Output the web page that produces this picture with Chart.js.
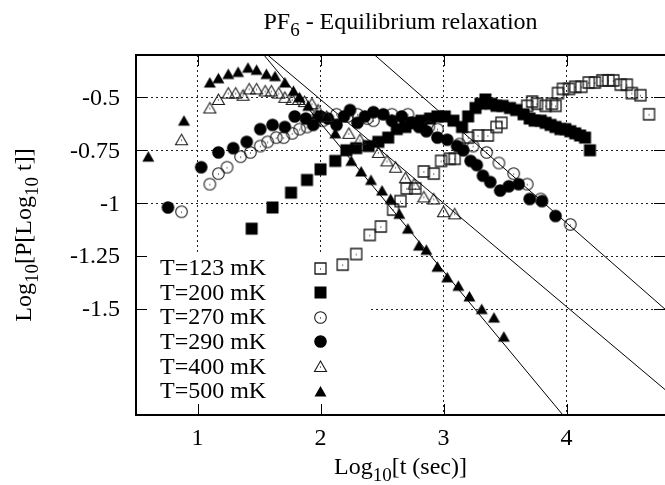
<!DOCTYPE html>
<html>
<head>
<meta charset="utf-8">
<script src="https://cdn.jsdelivr.net/npm/chart.js@4.4.1/dist/chart.umd.min.js"></script>
<style>
    html, body { margin: 0; padding: 0; background: #fff; }
    #chart { display: block; }
</style>
</head>
<body>
<canvas id="chart" width="665" height="485"></canvas>
<script>
/* ===== Data ===== */

var seriesLabels = ['T=123 mK', 'T=200 mK', 'T=270 mK', 'T=290 mK', 'T=400 mK', 'T=500 mK'];

var x123 = [2.18, 2.29, 2.40, 2.49, 2.59, 2.65, 2.70, 2.77, 2.84, 2.92, 2.98, 3.05, 3.09, 3.20, 3.28, 3.36, 3.43, 3.47,
            3.68, 3.72, 3.76, 3.83, 3.88, 3.91, 3.93, 3.97, 4.02, 4.07, 4.12, 4.18, 4.23, 4.29, 4.34, 4.38, 4.44, 4.49, 4.53, 4.60, 4.67];
var y123 = [-1.29, -1.24, -1.15, -1.11, -1.03, -0.99, -0.93, -0.93, -0.85, -0.86, -0.80, -0.79, -0.79, -0.69, -0.68, -0.68, -0.64, -0.62,
            -0.54, -0.52, -0.53, -0.54, -0.53, -0.54, -0.48, -0.46, -0.46, -0.45, -0.45, -0.43, -0.43, -0.42, -0.42, -0.42, -0.44, -0.44, -0.48, -0.49, -0.58];

var x200 = [1.44, 1.61, 1.76, 1.89, 2.00, 2.12, 2.21, 2.29, 2.39, 2.47, 2.55, 2.62, 2.69, 2.75, 2.82, 2.89, 2.95, 3.01, 3.08, 3.15,
            3.20, 3.26, 3.30, 3.34, 3.39, 3.43, 3.48, 3.54, 3.59, 3.65, 3.70, 3.74, 3.79, 3.83, 3.87, 3.91, 3.95, 3.99, 4.03, 4.07, 4.11, 4.15, 4.19];
var y200 = [-1.12, -1.02, -0.95, -0.89, -0.84, -0.80, -0.75, -0.74, -0.73, -0.71, -0.69, -0.65, -0.64, -0.62, -0.61, -0.60, -0.59, -0.59, -0.61, -0.64,
            -0.59, -0.55, -0.53, -0.51, -0.53, -0.54, -0.54, -0.55, -0.56, -0.58, -0.60, -0.61, -0.61, -0.62, -0.63, -0.64, -0.65, -0.65, -0.66, -0.67, -0.68, -0.69, -0.75];

var x270 = [0.87, 1.10, 1.17, 1.24, 1.35, 1.43, 1.51, 1.57, 1.64, 1.70, 1.77, 1.83, 1.89, 1.95, 2.02, 2.13, 2.22, 2.30, 2.38, 2.43,
            2.58, 2.71, 2.88, 2.95, 3.13, 3.24, 3.35, 3.45, 3.57, 3.68, 3.79, 4.03];
var y270 = [-1.04, -0.91, -0.86, -0.83, -0.78, -0.76, -0.73, -0.71, -0.69, -0.69, -0.67, -0.65, -0.64, -0.62, -0.61, -0.58, -0.59, -0.58, -0.60, -0.61,
            -0.58, -0.58, -0.64, -0.65, -0.72, -0.73, -0.76, -0.81, -0.86, -0.91, -0.98, -1.10];

var x290 = [0.76, 1.03, 1.17, 1.29, 1.40, 1.51, 1.61, 1.71, 1.79, 1.88, 1.94, 2.00, 2.06, 2.13, 2.19, 2.24, 2.30, 2.36, 2.43, 2.51,
            2.58, 2.66, 2.74, 2.80, 2.86, 2.95, 3.03, 3.11, 3.16, 3.22, 3.27, 3.32, 3.38, 3.46, 3.53, 3.61, 3.70, 3.80, 3.91];
var y290 = [-1.02, -0.83, -0.76, -0.74, -0.71, -0.65, -0.63, -0.64, -0.59, -0.60, -0.63, -0.59, -0.60, -0.63, -0.59, -0.56, -0.62, -0.59, -0.57, -0.58,
            -0.61, -0.59, -0.62, -0.64, -0.66, -0.69, -0.70, -0.73, -0.75, -0.80, -0.82, -0.87, -0.90, -0.94, -0.92, -0.91, -0.98, -0.99, -1.06];

var x400 = [0.87, 1.10, 1.17, 1.25, 1.31, 1.37, 1.42, 1.48, 1.55, 1.60, 1.66, 1.71, 1.77, 1.82, 1.87, 1.93, 1.98, 2.05, 2.23, 2.32,
            2.47, 2.54, 2.61, 2.69, 2.76, 2.84, 2.92, 3.00, 3.09];
var y400 = [-0.70, -0.55, -0.51, -0.48, -0.48, -0.49, -0.46, -0.46, -0.47, -0.47, -0.48, -0.50, -0.51, -0.51, -0.52, -0.53, -0.56, -0.59, -0.67, -0.70,
            -0.76, -0.80, -0.83, -0.88, -0.91, -0.97, -0.98, -1.04, -1.05];

var x500 = [0.60, 0.89, 1.10, 1.17, 1.25, 1.33, 1.41, 1.48, 1.56, 1.63, 1.71, 1.78, 1.83, 1.90, 1.97, 2.12, 2.25, 2.33, 2.41, 2.50,
            2.57, 2.64, 2.71, 2.80, 2.86, 2.95, 3.03, 3.12, 3.21, 3.31, 3.41, 3.49];
var y500 = [-0.78, -0.61, -0.43, -0.41, -0.39, -0.38, -0.36, -0.37, -0.39, -0.40, -0.43, -0.47, -0.50, -0.54, -0.58, -0.67, -0.80, -0.85, -0.89, -0.94,
            -0.98, -1.05, -1.12, -1.20, -1.22, -1.30, -1.35, -1.39, -1.44, -1.50, -1.54, -1.63];

// straight fit lines, end points
var fit500X = [1.54, 3.97];
var fit500Y = [-0.30, -2.00];
var fit400X = [1.57, 4.80];
var fit400Y = [-0.30, -1.88];
var fit270X = [2.44, 4.80];
var fit270Y = [-0.30, -1.50];

var xTicks = [1, 2, 3, 4];
var xTickLabels = ['1', '2', '3', '4'];
var yTicks = [-0.5, -0.75, -1, -1.25, -1.5];
var yTickLabels = ['-0.5', '-0.75', '-1', '-1.25', '-1.5'];


/* ===== Markers ===== */

var FONT = '"Liberation Serif", "Times New Roman", serif';

function makeMarker(shape, filled) {
    var c = document.createElement('canvas');
    c.width = 15;
    c.height = 15;
    var g = c.getContext('2d');
    g.fillStyle = '#000';
    g.strokeStyle = filled ? '#000' : '#1a1a1a';
    g.lineWidth = shape === 'square' ? 1.3 : 1.1;
    g.beginPath();
    if (shape === 'square') {
        if (filled) g.rect(1.5, 1.5, 12, 12);
        else g.rect(2, 2, 11, 11);
    } else if (shape === 'circle') {
        g.arc(7.5, 7.5, filled ? 6.3 : 5.8, 0, Math.PI * 2);
    } else {
        g.moveTo(7.5, 2);
        g.lineTo(13.5, 12.5);
        g.lineTo(1.5, 12.5);
        g.closePath();
    }
    if (filled) {
        g.fill();
    } else {
        g.stroke();
        g.fillRect(7, 7.5, 1, 1);
    }
    return c;
}

var markers = [
    makeMarker('square', false),
    makeMarker('square', true),
    makeMarker('circle', false),
    makeMarker('circle', true),
    makeMarker('triangle', false),
    makeMarker('triangle', true)
];

function toPoints(xs, ys) {
    return xs.map(function(x, i) { return { x: x, y: ys[i] }; });
}

var pointSets = [
    toPoints(x123, y123), toPoints(x200, y200), toPoints(x270, y270),
    toPoints(x290, y290), toPoints(x400, y400), toPoints(x500, y500)
];

function fitLine(xs, ys) {
    return {
        data: toPoints(xs, ys),
        showLine: true,
        borderColor: '#000',
        borderWidth: 1,
        pointRadius: 0,
        fill: false
    };
}

// first dataset is drawn on top: lines, then 500 mK ... 123 mK
var datasets = [fitLine(fit500X, fit500Y), fitLine(fit400X, fit400Y), fitLine(fit270X, fit270Y)];
for (var i = pointSets.length - 1; i >= 0; i--) {
    datasets.push({
        label: seriesLabels[i],
        data: pointSets[i],
        pointStyle: markers[i],
        pointRadius: 7,
        showLine: false
    });
}


/* ===== Text helpers ===== */

// parts: [text, isSub] pairs
function richWidth(ctx, parts, size) {
    var w = 0;
    parts.forEach(function(p) {
        ctx.font = (p[1] ? Math.round(size * 0.78) : size) + 'px ' + FONT;
        w += ctx.measureText(p[0]).width;
    });
    return w;
}

function drawRich(ctx, parts, x, y, size) {
    var w = richWidth(ctx, parts, size);
    var cx = x - w / 2;
    ctx.textBaseline = 'alphabetic';
    ctx.textAlign = 'left';
    parts.forEach(function(p) {
        ctx.font = (p[1] ? Math.round(size * 0.78) : size) + 'px ' + FONT;
        ctx.fillText(p[0], cx, p[1] ? y + 7 : y);
        cx += ctx.measureText(p[0]).width;
    });
}


/* ===== Plugin: key box, frame, ticks, labels ===== */

var keyBox = { left: 137, top: 254, right: 370 };

var gnuplotLook = {
    id: 'gnuplotLook',
    beforeDatasetsDraw: function(chart) {
        var a = chart.chartArea;
        var ctx = chart.ctx;
        ctx.save();
        ctx.fillStyle = '#fff';
        ctx.fillRect(keyBox.left, keyBox.top, keyBox.right - keyBox.left, a.bottom - keyBox.top - 1);
        ctx.restore();
    },
    afterDatasetsDraw: function(chart) {
        var a = chart.chartArea;
        var ctx = chart.ctx;
        var xs = chart.scales.x, ys = chart.scales.y;
        ctx.save();

        // frame (right side is outside the picture)
        ctx.strokeStyle = '#000';
        ctx.lineWidth = 2;
        ctx.beginPath();
        ctx.moveTo(a.right + 2, a.top);
        ctx.lineTo(a.left, a.top);
        ctx.lineTo(a.left, a.bottom);
        ctx.lineTo(a.right + 2, a.bottom);
        ctx.stroke();

        // inward ticks on all sides
        ctx.lineWidth = 1;
        var tl = 11;
        ctx.beginPath();
        xTicks.forEach(function(v) {
            var px = Math.round(xs.getPixelForValue(v)) + 0.5;
            ctx.moveTo(px, a.bottom);
            ctx.lineTo(px, a.bottom - tl);
            ctx.moveTo(px, a.top);
            ctx.lineTo(px, a.top + tl);
        });
        yTicks.forEach(function(v) {
            var py = Math.round(ys.getPixelForValue(v)) + 0.5;
            ctx.moveTo(a.left, py);
            ctx.lineTo(a.left + tl, py);
            ctx.moveTo(a.right, py);
            ctx.lineTo(a.right - tl, py);
        });
        ctx.stroke();

        // key: text left, symbol right
        ctx.fillStyle = '#000';
        ctx.font = '24px ' + FONT;
        ctx.textAlign = 'left';
        ctx.textBaseline = 'middle';
        seriesLabels.forEach(function(lbl, i) {
            var y = 268 + i * 24.6;
            ctx.fillText(lbl, 160, y + 1);
            var m = markers[i];
            ctx.drawImage(m, Math.round(320 - m.width / 2), Math.round(y - m.height / 2));
        });
        ctx.restore();
    },
    afterDraw: function(chart) {
        var a = chart.chartArea;
        var ctx = chart.ctx;
        var xs = chart.scales.x, ys = chart.scales.y;
        ctx.save();
        ctx.fillStyle = '#000';

        // tick labels
        ctx.font = '24px ' + FONT;
        ctx.textBaseline = 'middle';
        ctx.textAlign = 'right';
        yTicks.forEach(function(v, i) {
            ctx.fillText(yTickLabels[i], a.left - 16, ys.getPixelForValue(v) + 1);
        });
        ctx.textAlign = 'center';
        xTicks.forEach(function(v, i) {
            ctx.fillText(xTickLabels[i], xs.getPixelForValue(v), 439);
        });

        // title and axis titles
        var cx = (a.left + a.right) / 2;
        drawRich(ctx, [['PF', false], ['6', true], [' - Equilibrium relaxation', false]], cx, 29, 24);
        drawRich(ctx, [['Log', false], ['10', true], ['[t (sec)]', false]], cx, 474, 24);

        ctx.translate(31, (a.top + a.bottom) / 2);
        ctx.rotate(-Math.PI / 2);
        drawRich(ctx, [['Log', false], ['10', true], ['[P[Log', false], ['10', true], [' t]]', false]], 0, 0, 24);
        ctx.restore();
    }
};


/* ===== Chart ===== */

function axisOptions(min, max, ticks) {
    return {
        type: 'linear',
        min: min,
        max: max,
        afterBuildTicks: function(scale) {
            scale.ticks = ticks.map(function(v) { return { value: v }; });
        },
        ticks: { display: false },
        grid: { color: '#222', lineWidth: 1, drawTicks: false },
        border: { display: false, dash: [2, 3] }
    };
}

new Chart(document.getElementById('chart'), {
    type: 'scatter',
    data: { datasets: datasets },
    options: {
        responsive: false,
        animation: false,
        events: [],
        layout: { autoPadding: false, padding: { left: 136, top: 55, right: 0, bottom: 70 } },
        plugins: {
            legend: { display: false },
            tooltip: { enabled: false },
            title: { display: false }
        },
        scales: {
            x: axisOptions(0.5, 4.8, xTicks),
            y: axisOptions(-2, -0.3, yTicks)
        }
    },
    plugins: [gnuplotLook]
});
</script>
</body>
</html>
